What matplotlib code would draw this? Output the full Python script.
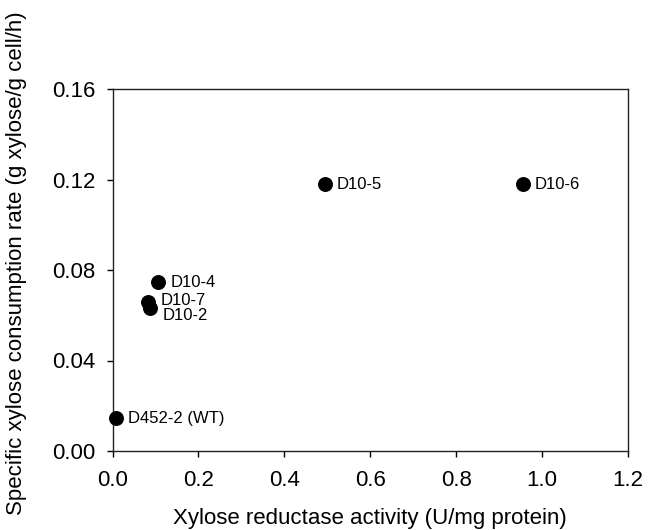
import matplotlib
matplotlib.use("Agg")
import matplotlib.pyplot as plt

plt.rcParams['font.family'] = ['Liberation Sans', 'DejaVu Sans']

strains = ["D452-2 (WT)", "D10-2", "D10-7", "D10-4", "D10-5", "D10-6"]
xr_activity = [0.0075, 0.087, 0.083, 0.107, 0.495, 0.955]
xylose_rate = [0.0145, 0.063, 0.066, 0.0746, 0.118, 0.118]

x_ticks = [0.0, 0.2, 0.4, 0.6, 0.8, 1.0, 1.2]
y_ticks = [0.00, 0.04, 0.08, 0.12, 0.16]

# label offsets in points (layout only)
label_offsets = {"D10-2": (9, -5), "D10-7": (9, 1)}

fig = plt.figure(figsize=(6.55, 5.3), dpi=100)
ax = fig.add_axes([112.5/655, 79/530, (628-112.5)/655, (451-89)/530])

ax.scatter(xr_activity, xylose_rate, s=95, color='black', zorder=3, clip_on=False)
for name, x, y in zip(strains, xr_activity, xylose_rate):
    dx, dy = label_offsets.get(name, (8.5, 0))
    ax.annotate(name, (x, y), xytext=(dx, dy), textcoords='offset points',
                ha='left', va='center', fontsize=12)

ax.set_xlim(0, 1.2)
ax.set_ylim(0, 0.16)
ax.set_xticks(x_ticks)
ax.set_xticklabels([f"{t:.1f}" for t in x_ticks])
ax.set_yticks(y_ticks)
ax.set_yticklabels([f"{t:.2f}" for t in y_ticks])
ax.tick_params(direction='out', length=4, width=1, labelsize=16)
ax.tick_params(axis='x', pad=10)
ax.tick_params(axis='y', pad=8)
for s in ax.spines.values():
    s.set_linewidth(1.0)
    s.set_color('#222222')

ax.set_xlabel("Xylose reductase activity (U/mg protein)", fontsize=16, labelpad=12)
ax.set_ylabel("Specific xylose consumption rate (g xylose/g cell/h)", fontsize=16, labelpad=18)
ax.yaxis.label.set_y(0.52)

fig.savefig("out.png", dpi=100)
